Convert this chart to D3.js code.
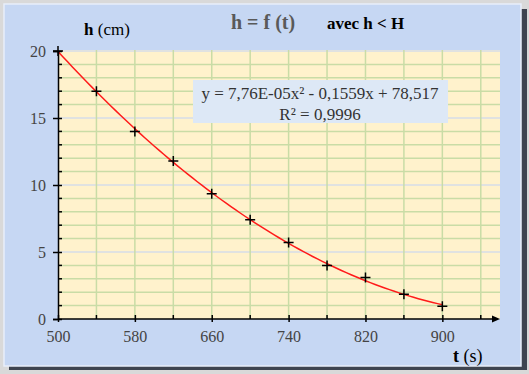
<!DOCTYPE html>
<html>
<head>
<meta charset="utf-8">
<script src="https://cdn.jsdelivr.net/npm/d3@7"></script>
<style>
  body { margin: 0; background: #d9d9d9; }
  svg { display: block; font-family: "Liberation Serif", "DejaVu Serif", serif; }
</style>
</head>
<body>
<svg id="chart" width="529" height="374"></svg>
<script>
// measured points
const times = [500, 540, 580, 620, 660, 700, 740, 780, 820, 860, 900];
const heights = [20, 17.0, 14.0, 11.8, 9.35, 7.4, 5.7, 4.0, 3.1, 1.85, 0.95];
// trendline shown on the chart: a*t^2 + b*t + c
const trendCoefs = [7.76e-5, -0.1559, 78.517];
const xTicks = [500, 540, 580, 620, 660, 700, 740, 780, 820, 860, 900, 940];
const xLabels = [500, 580, 660, 740, 820, 900];
const yTicks = [0, 5, 10, 15, 20];

const svg = d3.select('#chart');

// frame with shadow
svg.append('rect').attr('x', 9).attr('y', 9).attr('width', 518).attr('height', 361)
    .attr('fill', '#3e4450');
svg.append('rect').attr('x', 4).attr('y', 4).attr('width', 517).attr('height', 362)
    .attr('fill', '#c6d7f3').attr('stroke', '#e8eefa').attr('stroke-width', 1.5);

const x = d3.scaleLinear().domain([500, 960]).range([58, 500]);
const y = d3.scaleLinear().domain([0, 20]).range([319, 51]);

// plot area
svg.append('rect')
    .attr('x', x(500)).attr('y', 50)
    .attr('width', x(960) - x(500)).attr('height', y(0) - 50)
    .attr('fill', '#fff2cc');

const grid = svg.append('g');
grid.selectAll('.hg')
    .data(d3.range(1, 21))
    .enter().append('line')
    .attr('x1', x(500)).attr('x2', x(960))
    .attr('y1', d => y(d)).attr('y2', d => y(d))
    .attr('stroke', d => d % 5 === 0 ? '#d6dde8' : '#c9dca6')
    .attr('stroke-width', 1.5);
grid.selectAll('.vg')
    .data(xTicks.slice(1))
    .enter().append('line')
    .attr('x1', d => x(d)).attr('x2', d => x(d))
    .attr('y1', 50).attr('y2', y(0))
    .attr('stroke', '#c9dca6')
    .attr('stroke-width', 1.5);

// equation box
svg.append('rect').attr('x', 193).attr('y', 80).attr('width', 255).attr('height', 43)
    .attr('fill', '#dde8f6');
svg.append('text').attr('x', 320).attr('y', 99).attr('text-anchor', 'middle')
    .attr('font-size', 17).attr('fill', '#333')
    .text('y = 7,76E-05x² - 0,1559x + 78,517');
svg.append('text').attr('x', 320).attr('y', 120).attr('text-anchor', 'middle')
    .attr('font-size', 17).attr('fill', '#333')
    .text('R² = 0,9996');

// trend curve
const tLine = d3.range(500, 900.1, 5);
const poly = t => trendCoefs[0] * t * t + trendCoefs[1] * t + trendCoefs[2];
svg.append('path')
    .datum(tLine)
    .attr('fill', 'none')
    .attr('stroke', '#ff1a1a')
    .attr('stroke-width', 1.5)
    .attr('d', d3.line().x(d => x(d)).y(d => y(poly(d))));

// y axis
const yAxis = d3.axisLeft(y).tickValues(yTicks).tickSize(5).tickPadding(7);
const yAxisG = svg.append('g').attr('transform', `translate(${x(500)},0)`).call(yAxis);
yAxisG.select('.domain').attr('stroke', '#000').attr('stroke-width', 1.5);
yAxisG.selectAll('.tick line').attr('stroke', '#000').attr('stroke-width', 1.5).attr('x2', -5).attr('x1', 4);
yAxisG.selectAll('.tick text').attr('font-family', 'Liberation Serif').attr('font-size', 16).attr('fill', '#444');
svg.append('g').selectAll('line')
    .data(d3.range(1, 20).filter(d => d % 5 !== 0))
    .enter().append('line')
    .attr('x1', x(500)).attr('x2', x(500) + 4)
    .attr('y1', d => y(d)).attr('y2', d => y(d))
    .attr('stroke', '#000').attr('stroke-width', 1.5);

// x axis
const xAxis = d3.axisBottom(x).tickValues(xLabels).tickSize(3).tickPadding(9).tickFormat(d3.format('d'));
const xAxisG = svg.append('g').attr('transform', `translate(0,${y(0)})`).call(xAxis);
xAxisG.select('.domain').remove();
xAxisG.selectAll('.tick line').attr('stroke', '#000').attr('stroke-width', 1.5).attr('y1', -4).attr('y2', 3);
xAxisG.selectAll('.tick text').attr('font-family', 'Liberation Serif').attr('font-size', 16).attr('fill', '#444');
svg.append('g').selectAll('line')
    .data(xTicks.filter(d => !xLabels.includes(d)))
    .enter().append('line')
    .attr('x1', d => x(d)).attr('x2', d => x(d))
    .attr('y1', y(0) - 4).attr('y2', y(0))
    .attr('stroke', '#000').attr('stroke-width', 1.5);
svg.append('line')
    .attr('x1', x(500)).attr('x2', 496)
    .attr('y1', y(0)).attr('y2', y(0))
    .attr('stroke', '#000').attr('stroke-width', 1.5);
svg.append('path')
    .attr('d', `M${x(960)},${y(0)} l-8,-3.5 l0,7 z`)
    .attr('fill', '#000');

// markers
svg.append('g').selectAll('path')
    .data(times)
    .enter().append('path')
    .attr('d', (d, i) => `M${x(d) - 5},${y(heights[i])}h10M${x(d)},${y(heights[i]) - 5}v10`)
    .attr('stroke', '#000').attr('stroke-width', 1.5);

// titles
svg.append('text').attr('x', 231).attr('y', 29).attr('font-size', 20)
    .attr('font-weight', 'bold').attr('fill', '#595959').text('h = f (t)');
svg.append('text').attr('x', 327).attr('y', 29).attr('font-size', 17)
    .attr('font-weight', 'bold').attr('fill', '#000').text('avec h < H');

const hl = svg.append('text').attr('x', 84).attr('y', 35).attr('font-size', 17).attr('fill', '#000');
hl.append('tspan').attr('font-weight', 'bold').text('h');
hl.append('tspan').text(' (cm)');

const tl = svg.append('text').attr('x', 453).attr('y', 362).attr('font-size', 18).attr('fill', '#000');
tl.append('tspan').attr('font-weight', 'bold').text('t');
tl.append('tspan').text(' (s)');
</script>
</body>
</html>
